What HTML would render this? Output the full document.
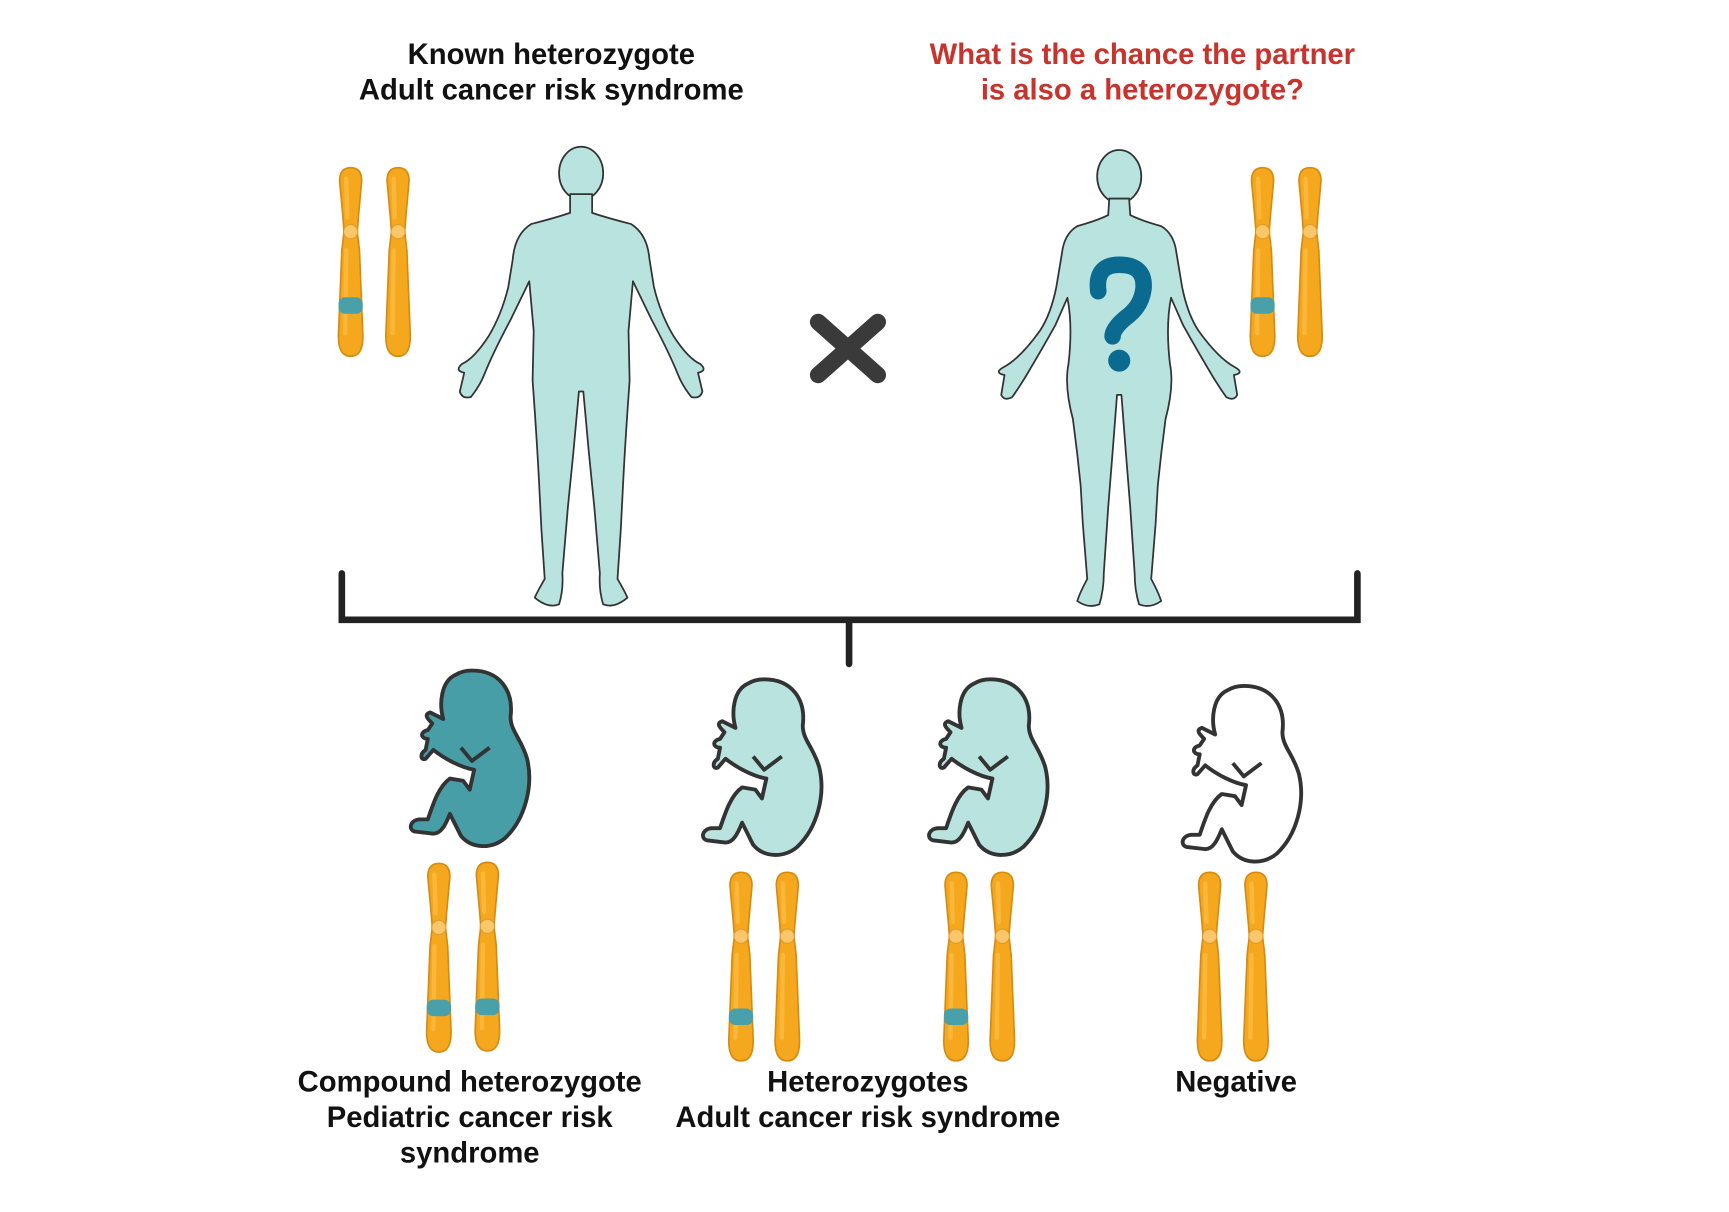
<!DOCTYPE html>
<html><head><meta charset="utf-8"><style>
html,body{margin:0;padding:0;background:#fff;}
svg{display:block;}
text{font-family:"Liberation Sans",Arial,sans-serif;font-weight:bold;}
</style></head><body>
<svg width="1729" height="1212" viewBox="0 0 1568 1099" xmlns="http://www.w3.org/2000/svg">
<defs>
<g id="chr">
<path d="M-10,12 Q-10,0 0,0 Q10,0 10,12 L7,45 L6,58 L8,75 L11,150 Q12,171 0,171 Q-12,171 -11,150 L-8,75 L-6,58 L-7,45 Z" fill="#f5a81e" stroke="#d68b10" stroke-width="1.5"/>
<path d="M-4,10 L-3,45 M-4,75 L-5,150" stroke="#fab73a" stroke-width="4" stroke-linecap="round" fill="none"/>
<circle cx="0" cy="58" r="6.5" fill="#fcc66a" stroke="#e39a20" stroke-width="1"/>
</g>
<rect id="band" x="-11" y="-7.5" width="22" height="15" rx="6" fill="#4aa0a8"/>
<g id="fetus">
<path d="M0,0 C25,0 38,18 35,42 C35,55 45,62 50,80 C56,105 48,135 30,152 C18,162 0,162 -10,150 L-20,130 C-24,140 -28,148 -35,148 L-52,146 C-58,144 -56,136 -48,135 L-40,135 C-35,120 -30,105 -20,98 L-8,100 L-2,108 L2,90 C-10,88 -25,80 -35,72 L-42,80 C-46,82 -48,76 -42,72 L-40,62 C-46,62 -48,56 -40,54 L-36,48 C-40,44 -44,40 -38,38 L-26,44 C-30,30 -28,10 -15,4 C-10,1 -5,0 0,0 Z" stroke="#333" stroke-width="3.5" stroke-linejoin="round"/>
<path d="M-10,70 L0,82 L16,70" fill="none" stroke="#333" stroke-width="3.5" stroke-linejoin="round"/>
</g>
</defs>

<g font-size="26.5" text-anchor="middle">
<text x="500" y="58" fill="#111">Known heterozygote</text>
<text x="500" y="90" fill="#111">Adult cancer risk syndrome</text>
<text x="1036" y="58" fill="#c8332c">What is the chance the partner</text>
<text x="1036" y="90" fill="#c8332c">is also a heterozygote?</text>
</g>

<use href="#chr" x="318" y="152"/><use href="#band" x="318" y="277"/>
<use href="#chr" x="361" y="152"/>
<use href="#chr" x="1145" y="152"/><use href="#band" x="1145" y="277"/>
<use href="#chr" x="1188" y="152"/>

<g transform="translate(527,0)" fill="#b8e3df" stroke="#333" stroke-width="1.6" stroke-linejoin="round">
<ellipse cx="0" cy="157" rx="20" ry="24"/>
<path d="M-10,176 L-10,193 Q-25,198 -45,203 Q-60,212 -62,235 L-66,260 Q-72,285 -84,305 Q-97,325 -108,330 Q-115,336 -106,338 L-110,355 Q-108,362 -100,360 Q-92,350 -88,340 Q-80,320 -64,290 L-47,255 L-43,300 L-44,345 Q-40,400 -38,440 L-36,480 L-33,525 Q-40,537 -42,542 Q-30,552 -20,548 Q-16,535 -17,520 L-12,460 L-7,410 L-2,355 L2,355 L7,410 L12,460 L17,520 Q16,535 20,548 Q30,552 42,542 Q40,537 33,525 L36,480 L38,440 Q40,400 44,345 L43,300 L47,255 L64,290 Q80,320 88,340 Q92,350 100,360 Q108,362 110,355 L106,338 Q115,336 108,330 Q97,325 84,305 Q72,285 66,260 L62,235 Q60,212 45,203 Q25,198 10,193 L10,176 Z"/>
</g>

<g transform="translate(1015,0)" fill="#b8e3df" stroke="#333" stroke-width="1.6" stroke-linejoin="round">
<ellipse cx="0" cy="160" rx="20" ry="24"/>
<path d="M-9,180 L-10,195 Q-20,200 -38,205 Q-50,212 -52,230 L-57,260 Q-62,285 -72,300 Q-90,325 -105,333 Q-114,338 -104,340 L-107,358 Q-104,364 -97,360 Q-90,350 -84,340 Q-72,320 -58,295 L-47,270 Q-42,295 -46,330 Q-50,350 -42,380 Q-38,410 -35,440 L-33,475 L-29,525 Q-36,538 -38,545 Q-28,552 -18,548 Q-14,535 -14,520 L-10,460 L-6,410 L-2,358 L2,358 L6,410 L10,460 L14,520 Q14,535 18,548 Q28,552 38,545 Q36,538 29,525 L33,475 L35,440 Q38,410 42,380 Q50,350 46,330 Q42,295 47,270 L58,295 Q72,320 84,340 Q90,350 97,360 Q104,364 107,358 L104,340 Q114,338 105,333 Q90,325 72,300 Q62,285 57,260 L52,230 Q50,212 38,205 Q20,200 10,195 L9,180 Z"/>
<path d="M-19,264 Q-22,240 0,240 Q24,240 22,262 Q20,278 6,288 Q-6,298 -6,305" fill="none" stroke="#0b6a8f" stroke-width="15" stroke-linecap="round"/>
<circle cx="0" cy="327" r="10" fill="#0b6a8f" stroke="none"/>
</g>

<g stroke="#3a3a3a" stroke-width="15" stroke-linecap="round">
<line x1="742" y1="292" x2="796" y2="340"/>
<line x1="796" y1="292" x2="742" y2="340"/>
</g>

<path d="M310,520 L310,562 L1231,562 L1231,520 M770,562 L770,602" fill="none" stroke="#222" stroke-width="6" stroke-linecap="round"/>

<use href="#fetus" x="428" y="608" fill="#479ea6"/>
<use href="#fetus" x="693" y="616" fill="#b8e3df"/>
<use href="#fetus" x="898" y="616" fill="#b8e3df"/>
<use href="#fetus" x="1128" y="622" fill="#ffffff"/>

<use href="#chr" x="398" y="783"/><use href="#band" x="398" y="914"/>
<use href="#chr" x="442" y="782"/><use href="#band" x="442" y="913"/>
<use href="#chr" x="672" y="791"/><use href="#band" x="672" y="922"/>
<use href="#chr" x="714" y="791"/>
<use href="#chr" x="867" y="791"/><use href="#band" x="867" y="922"/>
<use href="#chr" x="909" y="791"/>
<use href="#chr" x="1097" y="791"/>
<use href="#chr" x="1139" y="791"/>

<g font-size="26.5" text-anchor="middle" fill="#111">
<text x="426" y="990">Compound heterozygote</text>
<text x="426" y="1022">Pediatric cancer risk</text>
<text x="426" y="1054">syndrome</text>
<text x="787" y="990">Heterozygotes</text>
<text x="787" y="1022">Adult cancer risk syndrome</text>
<text x="1121" y="990">Negative</text>
</g>
</svg>
</body></html>
